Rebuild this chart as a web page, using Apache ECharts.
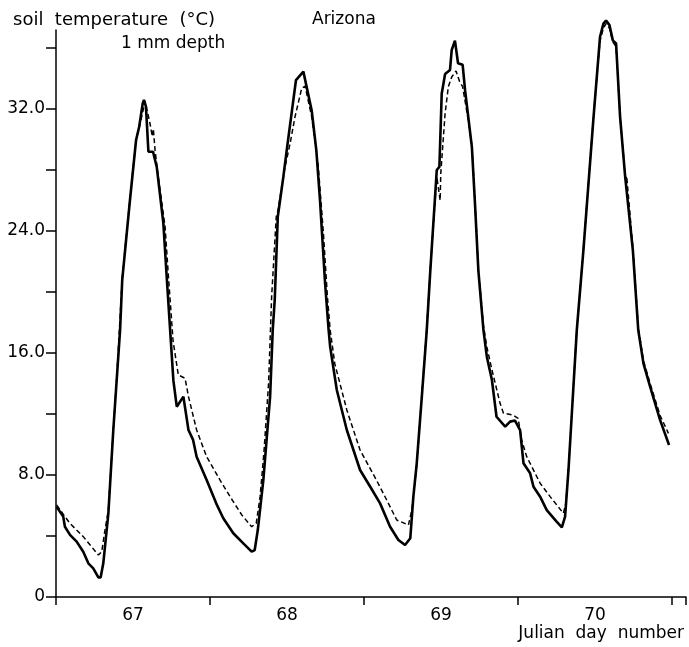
<!DOCTYPE html>
<html>
<head>
<meta charset="utf-8">
<script src="https://cdn.jsdelivr.net/npm/echarts@6/dist/echarts.min.js"></script>
<style>
  html, body { margin: 0; padding: 0; background: #fff; }
</style>
</head>
<body>
<div id="chart" style="width: 689px; height: 647px"></div>

<script type="text/javascript">
    // measured 1 mm soil temperature, [julian day, degC]
    let solidData = [
        [67.004, 5.92], [67.047, 5.27], [67.058, 4.61], [67.091, 4.07], [67.134, 3.63],
        [67.177, 2.97], [67.21, 2.21], [67.242, 1.88], [67.275, 1.29], [67.29, 1.29],
        [67.307, 2.21], [67.34, 5.49], [67.372, 10.95], [67.394, 14.23], [67.416, 17.5],
        [67.43, 20.8], [67.48, 26.0], [67.52, 29.97], [67.54, 30.84], [67.563, 32.37],
        [67.571, 32.6], [67.584, 32.15], [67.6, 29.2], [67.63, 29.2], [67.654, 28.2],
        [67.697, 24.5], [67.72, 20.8], [67.762, 14.2], [67.784, 12.48], [67.827, 13.14],
        [67.86, 10.95], [67.89, 10.3], [67.913, 9.2], [67.978, 7.67], [68.04, 6.14],
        [68.086, 5.16], [68.151, 4.18], [68.216, 3.52], [68.27, 2.97], [68.29, 3.08],
        [68.31, 4.39], [68.346, 7.67], [68.39, 13.14], [68.407, 17.5], [68.42, 19.48],
        [68.44, 24.94], [68.476, 27.56], [68.498, 29.3], [68.558, 33.9], [68.606, 34.45],
        [68.66, 31.9], [68.69, 29.3], [68.714, 26.0], [68.747, 20.57], [68.77, 17.5],
        [68.78, 16.4], [68.823, 13.57], [68.888, 10.95], [68.974, 8.33], [69.04, 7.23],
        [69.104, 6.14], [69.169, 4.61], [69.223, 3.74], [69.266, 3.41], [69.30, 3.85],
        [69.32, 6.58], [69.342, 8.77], [69.375, 13.14], [69.407, 17.5], [69.43, 21.4],
        [69.472, 28.0], [69.489, 28.2], [69.504, 33.0], [69.526, 34.3], [69.558, 34.56],
        [69.569, 35.87], [69.59, 36.48], [69.61, 35.0], [69.64, 34.9], [69.656, 33.2],
        [69.70, 29.5], [69.72, 25.8], [69.742, 21.4], [69.775, 17.5], [69.797, 15.76],
        [69.83, 14.23], [69.86, 11.82], [69.916, 11.17], [69.926, 11.06], [69.948, 11.5],
        [69.98, 11.57], [70.013, 10.95], [70.035, 8.77], [70.078, 8.11], [70.1, 7.23],
        [70.143, 6.58], [70.186, 5.7], [70.25, 4.94], [70.284, 4.57], [70.305, 5.27],
        [70.327, 8.33], [70.349, 12.05], [70.381, 17.5], [70.424, 22.75], [70.49, 31.5],
        [70.532, 36.74], [70.554, 37.6], [70.571, 37.8], [70.593, 37.5], [70.615, 36.5],
        [70.636, 36.3], [70.662, 31.5], [70.695, 27.56], [70.745, 22.75], [70.78, 17.5],
        [70.814, 15.3], [70.857, 13.8], [70.922, 11.6], [70.98, 9.97]
    ];

    // second curve (dashed)
    let dashedData = [
        [67.004, 6.03], [67.09, 4.83], [67.177, 3.96], [67.275, 2.75], [67.297, 2.97],
        [67.318, 4.39], [67.34, 5.7], [67.372, 11.0], [67.394, 14.3], [67.43, 20.9],
        [67.48, 26.1], [67.52, 30.0], [67.55, 31.2], [67.578, 32.5], [67.61, 31.06],
        [67.625, 30.2], [67.632, 30.7], [67.643, 29.3], [67.664, 27.56], [67.708, 24.3],
        [67.73, 21.0], [67.76, 16.8], [67.794, 14.56], [67.838, 14.34], [67.86, 13.14],
        [67.913, 10.95], [67.978, 9.2], [68.065, 7.67], [68.13, 6.58], [68.206, 5.38],
        [68.27, 4.61], [68.3, 4.83], [68.325, 6.58], [68.35, 9.5], [68.38, 14.0],
        [68.4, 19.7], [68.43, 24.94], [68.44, 25.3], [68.487, 28.2], [68.52, 29.75],
        [68.552, 31.5], [68.595, 33.36], [68.617, 33.5], [68.66, 31.5], [68.703, 28.2],
        [68.736, 23.85], [68.762, 19.7], [68.78, 17.5], [68.81, 15.3], [68.888, 12.26],
        [68.974, 9.64], [69.08, 7.67], [69.147, 6.36], [69.212, 5.05], [69.288, 4.72],
        [69.31, 5.7], [69.33, 7.46], [69.345, 9.0], [69.375, 13.3], [69.407, 17.6],
        [69.43, 21.5], [69.472, 27.56], [69.494, 26.0], [69.498, 27.78], [69.526, 31.7],
        [69.547, 33.46], [69.569, 34.1], [69.597, 34.5], [69.62, 33.8], [69.64, 33.46],
        [69.676, 31.3], [69.70, 29.6], [69.72, 25.9], [69.742, 21.5], [69.775, 17.8],
        [69.797, 16.4], [69.83, 14.9], [69.883, 12.7], [69.905, 12.05], [69.968, 11.93],
        [70.0, 11.72], [70.023, 10.3], [70.056, 9.2], [70.143, 7.46], [70.208, 6.58],
        [70.294, 5.49], [70.31, 6.14], [70.327, 8.4], [70.349, 12.1], [70.381, 17.5],
        [70.424, 22.8], [70.49, 31.6], [70.532, 36.5], [70.554, 37.3], [70.571, 37.6],
        [70.593, 37.3], [70.615, 36.4], [70.636, 36.1], [70.662, 31.5], [70.695, 27.7],
        [70.70, 27.4], [70.705, 27.6], [70.745, 22.9], [70.78, 17.7], [70.814, 15.5],
        [70.857, 14.0], [70.922, 11.9], [70.976, 10.73]
    ];

    let yLabelled = [0, 8, 16, 24, 32];

    let font = 'DejaVu Sans';
    let dom = document.getElementById('chart');
    let chart = echarts.init(dom);

    let option = {
        animation: false,
        grid: { left: 56, right: 3, top: 30, bottom: 50 },
        xAxis: [
            {
                type: 'value',
                min: 67,
                max: 71.09,
                interval: 1,
                axisLine: { lineStyle: { color: '#000', width: 1.5 } },
                axisTick: { length: 8, lineStyle: { color: '#000', width: 1.5 } },
                axisLabel: { show: false },
                splitLine: { show: false }
            },
            {
                // day labels sit in the middle of each day
                type: 'value',
                min: 67,
                max: 71.09,
                interval: 0.5,
                position: 'bottom',
                axisLine: { show: false },
                axisTick: { show: false },
                splitLine: { show: false },
                axisLabel: {
                    margin: 10,
                    color: '#000',
                    fontFamily: font,
                    fontSize: 17,
                    formatter: function (v) {
                        return Math.round(v * 2) % 2 === 1 ? String(Math.floor(v)) : '';
                    }
                }
            }
        ],
        yAxis: {
            type: 'value',
            min: 0,
            max: 37.18,
            interval: 4,
            axisLine: { show: true, lineStyle: { color: '#000', width: 1.5 } },
            axisTick: { show: true, length: 10, lineStyle: { color: '#000', width: 1.5 } },
            splitLine: { show: false },
            axisLabel: {
                margin: 11,
                color: '#000',
                fontFamily: font,
                fontSize: 17,
                showMaxLabel: false,
                formatter: function (v) {
                    if (yLabelled.indexOf(v) < 0) return '';
                    return v === 0 ? '0' : v.toFixed(1);
                }
            }
        },
        graphic: [
            { type: 'text', left: 13, top: 11, style: { text: 'soil  temperature  (°C)', font: '18px "DejaVu Sans"', fill: '#000' } },
            { type: 'text', left: 121, top: 35, style: { text: '1 mm depth', font: '17px "DejaVu Sans"', fill: '#000' } },
            { type: 'text', left: 312, top: 11, style: { text: 'Arizona', font: '17px "DejaVu Sans"', fill: '#000' } },
            { type: 'text', right: 5, top: 625, style: { text: 'Julian  day  number', font: '17px "DejaVu Sans"', fill: '#000' } }
        ],
        series: [
            {
                type: 'line',
                xAxisIndex: 0,
                data: solidData,
                showSymbol: false,
                clip: false,
                lineStyle: { color: '#000', width: 2.6 }
            },
            {
                type: 'line',
                xAxisIndex: 0,
                data: dashedData,
                showSymbol: false,
                clip: false,
                lineStyle: { color: '#000', width: 1.5, type: [5, 3] }
            }
        ]
    };

    chart.setOption(option);
</script>
</body>
</html>
